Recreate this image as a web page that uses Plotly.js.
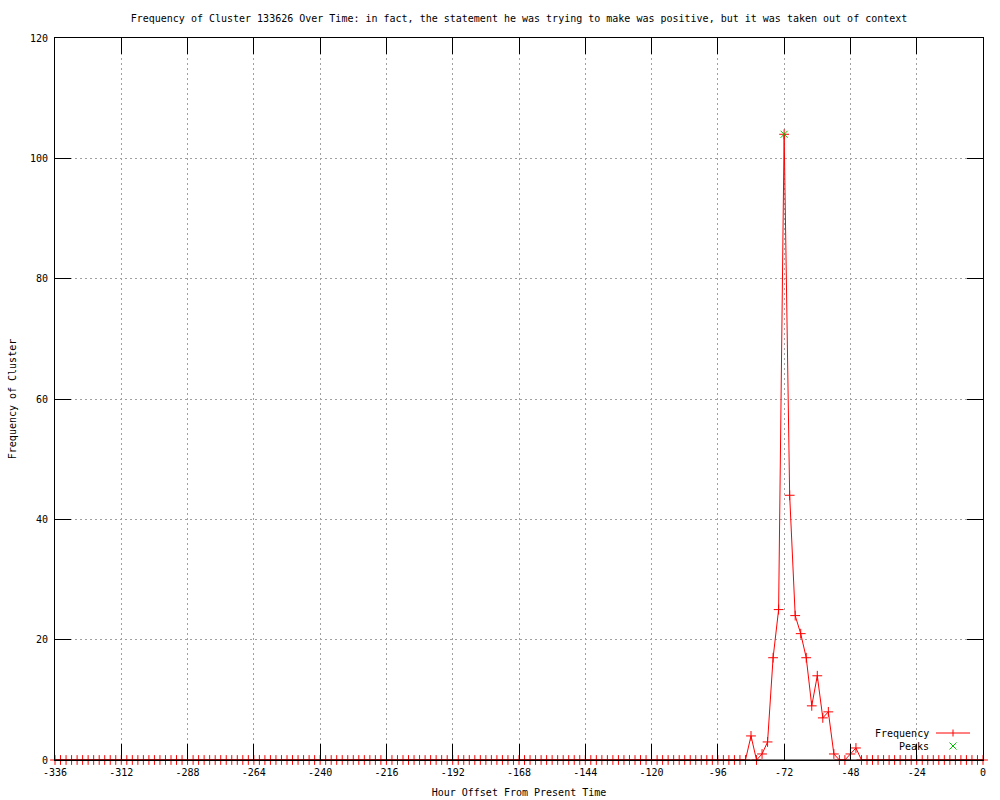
<!DOCTYPE html>
<html>
<head>
<meta charset="utf-8">
<script src="https://cdn.plot.ly/plotly-3.0.1.min.js"></script>
<style>html,body{margin:0;padding:0;background:#fff;}#chart{width:1000px;height:800px;}</style>
</head>
<body>
<div id="chart"></div>
<script>
var hours = [
-336,-334,-332,-330,-328,-326,-324,-322,-320,-318,-316,-314,
-312,-310,-308,-306,-304,-302,-300,-298,-296,-294,-292,-290,
-288,-286,-284,-282,-280,-278,-276,-274,-272,-270,-268,-266,
-264,-262,-260,-258,-256,-254,-252,-250,-248,-246,-244,-242,
-240,-238,-236,-234,-232,-230,-228,-226,-224,-222,-220,-218,
-216,-214,-212,-210,-208,-206,-204,-202,-200,-198,-196,-194,
-192,-190,-188,-186,-184,-182,-180,-178,-176,-174,-172,-170,
-168,-166,-164,-162,-160,-158,-156,-154,-152,-150,-148,-146,
-144,-142,-140,-138,-136,-134,-132,-130,-128,-126,-124,-122,
-120,-118,-116,-114,-112,-110,-108,-106,-104,-102,-100,-98,
-96,-94,-92,-90,-88,-86,-84,-82,-80,-78,-76,-74,
-72,-70,-68,-66,-64,-62,-60,-58,-56,-54,-52,-50,
-48,-46,-44,-42,-40,-38,-36,-34,-32,-30,-28,-26,
-24,-22,-20,-18,-16,-14,-12,-10,-8,-6,-4,-2,
0
];
var frequency = [
0,0,0,0,0,0,0,0,0,0,0,0,
0,0,0,0,0,0,0,0,0,0,0,0,
0,0,0,0,0,0,0,0,0,0,0,0,
0,0,0,0,0,0,0,0,0,0,0,0,
0,0,0,0,0,0,0,0,0,0,0,0,
0,0,0,0,0,0,0,0,0,0,0,0,
0,0,0,0,0,0,0,0,0,0,0,0,
0,0,0,0,0,0,0,0,0,0,0,0,
0,0,0,0,0,0,0,0,0,0,0,0,
0,0,0,0,0,0,0,0,0,0,0,0,
0,0,0,0,0,0,4,0,1,3,17,25,
104,44,24,21,17,9,14,7,8,1,0,0,
1,2,0,0,0,0,0,0,0,0,0,0,
0,0,0,0,0,0,0,0,0,0,0,0,
0
];
var peakHours = [-72];
var peakValues = [104];
var xTicks = [-336,-312,-288,-264,-240,-216,-192,-168,-144,-120,-96,-72,-48,-24,0];
var yTicks = [0,20,40,60,80,100,120];

var FONT = 'DejaVu Sans Mono';
var traces = [
  {
    x: hours, y: frequency, name: 'Frequency', type: 'scatter', mode: 'lines+markers',
    line: {color: '#ff0000', width: 1},
    marker: {symbol: 'cross-thin', size: 7, color: '#ff0000', line: {color: '#ff0000', width: 1}},
    cliponaxis: false
  },
  {
    // baseline axis redrawn over the zero-valued markers (as in the original)
    x: [hours[0], hours[hours.length - 1]], y: [yTicks[0], yTicks[0]], name: 'axis', type: 'scatter', mode: 'lines',
    line: {color: '#000000', width: 1}, cliponaxis: false, hoverinfo: 'skip'
  },
  {
    x: peakHours, y: peakValues, name: 'Peaks', type: 'scatter', mode: 'markers',
    marker: {symbol: 'x-thin', size: 7, color: '#00c000', line: {color: '#00c000', width: 1}},
    cliponaxis: false
  }
];

// legend geometry in paper fractions (plot area 55..983 x, 38..760 y)
function px(x){ return (x - 55) / 928; }
function py(y){ return (760 - y) / 722; }

var layout = {
  width: 1000, height: 800,
  margin: {l: 55, r: 17, t: 38, b: 40, pad: 0},
  paper_bgcolor: '#ffffff', plot_bgcolor: '#ffffff',
  showlegend: false,
  font: {family: FONT, size: 10, color: '#000'},
  title: {text: 'Frequency of Cluster 133626 Over Time: in fact, the statement he was trying to make was positive, but it was taken out of context',
          font: {family: FONT, size: 10, color: '#000'}, x: 0.519, xanchor: 'center', y: 1 - 18/800, yanchor: 'middle', yref: 'container'},
  xaxis: {
    range: [-336, 0], tickvals: xTicks, ticktext: xTicks.map(String),
    showline: true, linecolor: '#000', linewidth: 1, mirror: 'ticks',
    ticks: 'inside', ticklen: 16, tickcolor: '#000', tickwidth: 1,
    showgrid: true, gridcolor: '#a0a0a0', gridwidth: 1, griddash: '2px,3px',
    zeroline: false, tickfont: {family: FONT, size: 10, color: '#000'}, ticklabelstandoff: 3,
    title: {text: 'Hour Offset From Present Time', font: {family: FONT, size: 10, color: '#000'}, standoff: 11}
  },
  yaxis: {
    range: [0, 120], tickvals: yTicks, ticktext: yTicks.map(String),
    showline: true, linecolor: '#000', linewidth: 1, mirror: 'ticks',
    ticks: 'inside', ticklen: 16, tickcolor: '#000', tickwidth: 1,
    showgrid: true, gridcolor: '#a0a0a0', gridwidth: 1, griddash: '2px,3px',
    zeroline: false, tickfont: {family: FONT, size: 10, color: '#000'}, ticklabelstandoff: 4,
    title: {text: 'Frequency of Cluster', font: {family: FONT, size: 10, color: '#000'}, standoff: 11}
  },
  annotations: [
    {xref: 'paper', yref: 'paper', x: px(931), y: py(733), xanchor: 'right', yanchor: 'middle', text: 'Frequency', showarrow: false, font: {family: FONT, size: 10, color: '#000'}},
    {xref: 'paper', yref: 'paper', x: px(931), y: py(746), xanchor: 'right', yanchor: 'middle', text: 'Peaks', showarrow: false, font: {family: FONT, size: 10, color: '#000'}}
  ],
  shapes: [
    {type: 'line', xref: 'paper', yref: 'paper', x0: px(936), x1: px(970), y0: py(733), y1: py(733), line: {color: '#ff0000', width: 1}},
    {type: 'line', xref: 'paper', yref: 'paper', x0: px(953), x1: px(953), y0: py(729.5), y1: py(736.5), line: {color: '#ff0000', width: 1}},
    {type: 'line', xref: 'paper', yref: 'paper', x0: px(949.5), x1: px(956.5), y0: py(742.5), y1: py(749.5), line: {color: '#00c000', width: 1}},
    {type: 'line', xref: 'paper', yref: 'paper', x0: px(949.5), x1: px(956.5), y0: py(749.5), y1: py(742.5), line: {color: '#00c000', width: 1}}
  ]
};

Plotly.newPlot('chart', traces, layout, {displayModeBar: false, staticPlot: true});
</script>
</body>
</html>
